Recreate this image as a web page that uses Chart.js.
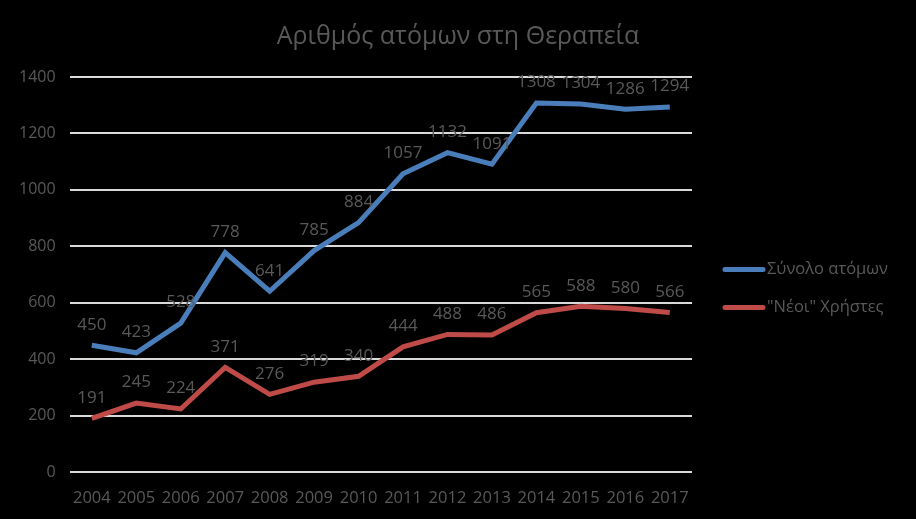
<!DOCTYPE html>
<html>
<head>
<meta charset="utf-8">
<script src="https://cdn.jsdelivr.net/npm/chart.js@4"></script>
<style>
  html,body{margin:0;padding:0;background:#000;}
  #wrap{width:916px;height:519px;}
</style>
</head>
<body>
<div id="wrap"><canvas id="myChart" width="916" height="519"></canvas></div>
<script>
const years=["2004","2005","2006","2007","2008","2009","2010","2011","2012","2013","2014","2015","2016","2017"];
const total=[450,423,528,778,641,785,884,1057,1132,1091,1308,1304,1286,1294];
const newUsers=[191,245,224,371,276,319,340,444,488,486,565,588,580,566];
const seriesNames=["Σύνολο ατόμων","\"Νέοι\" Χρήστες"];
const chartTitle="Αριθμός ατόμων στη Θεραπεία";

const txtColor="#595959";
const fontFam="'Open Sans', 'DejaVu Sans', sans-serif";

// draw the value above each point
const valueLabels={
  id:"valueLabels",
  afterDatasetsDraw(chart){
    const ctx=chart.ctx;
    ctx.save();
    ctx.font="17px "+fontFam;
    ctx.fillStyle=txtColor;
    ctx.textAlign="center";
    ctx.textBaseline="bottom";
    chart.data.datasets.forEach((ds,i)=>{
      const meta=chart.getDatasetMeta(i);
      meta.data.forEach((pt,j)=>{
        ctx.fillText(ds.data[j],pt.x,pt.y-12);
      });
    });
    ctx.restore();
  }
};

// title centred on the whole canvas + legend on the right, like the excel one
const sideLegend={
  id:"sideLegend",
  afterDraw(chart){
    const ctx=chart.ctx;
    const a=chart.chartArea;
    ctx.save();
    ctx.font="25px "+fontFam;
    ctx.fillStyle=txtColor;
    ctx.textAlign="center";
    ctx.textBaseline="middle";
    ctx.fillText(chartTitle,chart.width/2,37);

    const x0=a.right+33;
    const yMid=(a.top+a.bottom)/2;
    ctx.font="16.5px "+fontFam;
    ctx.textAlign="left";
    chart.data.datasets.forEach((ds,i)=>{
      const y=yMid-5+i*38;
      ctx.strokeStyle=ds.borderColor;
      ctx.lineWidth=5;
      ctx.lineCap="round";
      ctx.beginPath();
      ctx.moveTo(x0,y);
      ctx.lineTo(x0+38,y);
      ctx.stroke();
      ctx.fillStyle=txtColor;
      ctx.fillText(ds.label,x0+42,y);
    });
    ctx.restore();
  }
};

new Chart("myChart",{
  type:"line",
  data:{
    labels:years,
    datasets:[
      {label:seriesNames[0],data:total,borderColor:"#4a7ebb",backgroundColor:"#4a7ebb",borderWidth:5,pointRadius:0,tension:0},
      {label:seriesNames[1],data:newUsers,borderColor:"#be4b48",backgroundColor:"#be4b48",borderWidth:5,pointRadius:0,tension:0}
    ]
  },
  options:{
    responsive:false,
    animation:false,
    layout:{padding:{left:5,right:224,top:77,bottom:3}},
    plugins:{
      title:{display:false},
      legend:{display:false},
      tooltip:{enabled:false}
    },
    scales:{
      x:{
        offset:true,
        grid:{display:false},
        border:{display:false},
        ticks:{color:txtColor,font:{family:fontFam,size:16.5},maxRotation:0,autoSkip:false,padding:8}
      },
      y:{
        min:0,max:1400,
        ticks:{stepSize:200,color:txtColor,font:{family:fontFam,size:16},padding:14,callback:v=>String(v)},
        grid:{color:"#d9d9d9",lineWidth:2,drawTicks:false},
        border:{display:false}
      }
    }
  },
  plugins:[valueLabels,sideLegend]
});
</script>
</body>
</html>
